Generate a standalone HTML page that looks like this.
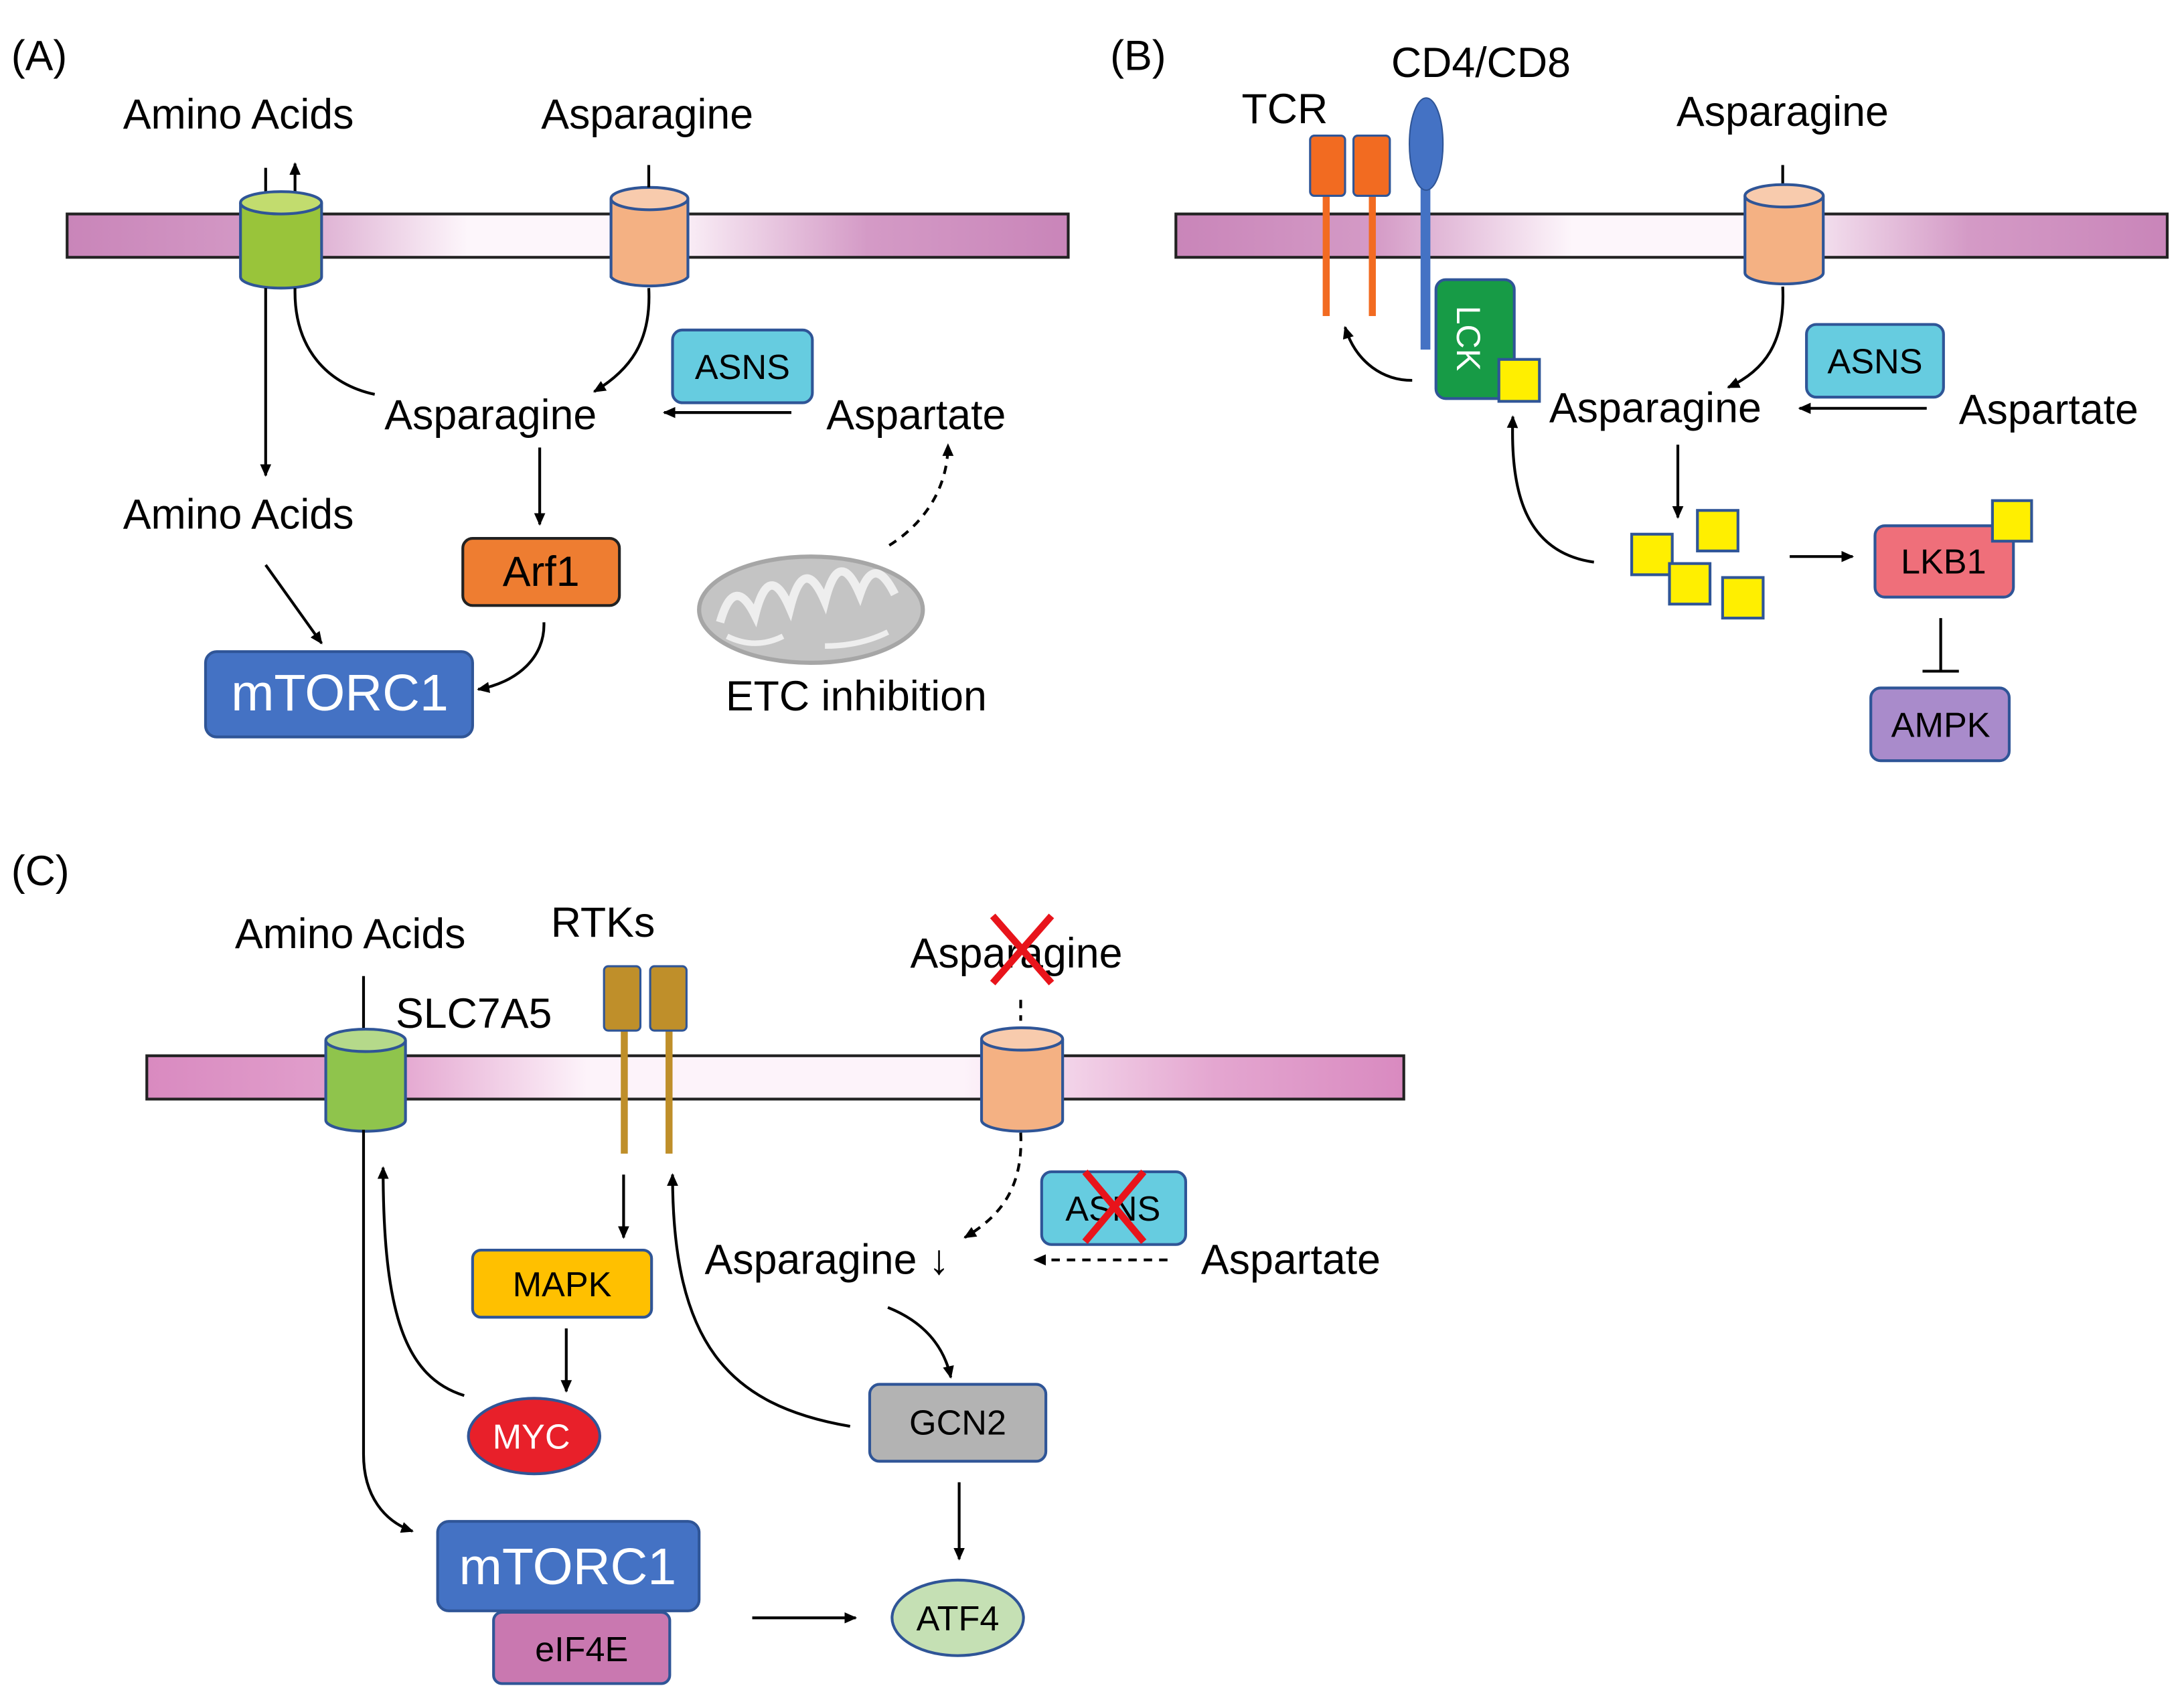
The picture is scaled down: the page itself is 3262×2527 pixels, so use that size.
<!DOCTYPE html>
<html><head><meta charset="utf-8"><style>html,body{margin:0;padding:0;background:#fff}svg{display:block}text{font-family:"Liberation Sans",Arial,sans-serif}</style></head>
<body>
<svg width="3262" height="2527" viewBox="0 0 1562 1210" xmlns="http://www.w3.org/2000/svg">
<defs>
<linearGradient id="mem" x1="0" x2="1" y1="0" y2="0">
<stop offset="0" stop-color="#c985b9"/><stop offset="0.2" stop-color="#d49ac6"/><stop offset="0.4" stop-color="#fdf6fb"/><stop offset="0.6" stop-color="#fdf6fb"/><stop offset="0.8" stop-color="#d49ac6"/><stop offset="1" stop-color="#c985b9"/>
</linearGradient>
<linearGradient id="memc" x1="0" x2="1" y1="0" y2="0">
<stop offset="0" stop-color="#d98ac0"/><stop offset="0.2" stop-color="#e4a6d0"/><stop offset="0.35" stop-color="#fdf3fa"/><stop offset="0.65" stop-color="#fdf3fa"/><stop offset="0.85" stop-color="#e4a6d0"/><stop offset="1" stop-color="#d98ac0"/>
</linearGradient>
<marker id="ar" markerWidth="10" markerHeight="10" refX="8" refY="5" orient="auto" markerUnits="userSpaceOnUse"><path d="M0,1 L9,5 L0,9 z" fill="#000"/></marker>
</defs>
<g font-size="30" fill="#000">
<!-- Panel A -->
<text x="8" y="50" font-size="30">(A)</text>
<rect x="48" y="153" width="716" height="31" fill="url(#mem)" stroke="#222" stroke-width="2"/>
<text x="88" y="92">Amino Acids</text>
<text x="387" y="92">Asparagine</text>
<line x1="190" y1="120" x2="190" y2="140" stroke="#000" stroke-width="2"/>
<line x1="211" y1="140" x2="211" y2="117" stroke="#000" stroke-width="2" marker-end="url(#ar)"/>
<g stroke="#2f5597" stroke-width="2">
<path d="M172,145 V198 A29,8 0 0 0 230,198 V145" fill="#99c43a"/>
<ellipse cx="201" cy="145" rx="29" ry="8" fill="#c2dc6e"/>
<path d="M437,142 V198 A28,8 0 0 0 492,198 V142" fill="#f4b183"/>
<ellipse cx="464.5" cy="142" rx="27.5" ry="8" fill="#f8cbad"/>
</g>
<line x1="464" y1="118" x2="464" y2="134" stroke="#000" stroke-width="2"/>
<g fill="none" stroke="#000" stroke-width="2">
<path d="M464,206 C466,245 450,265 425,280" marker-end="url(#ar)"/>
<path d="M211,206 C210,250 235,275 268,282"/>
<line x1="190" y1="206" x2="190" y2="340" marker-end="url(#ar)"/>
<line x1="566" y1="295" x2="475" y2="295" marker-end="url(#ar)"/>
<line x1="386" y1="320" x2="386" y2="375" marker-end="url(#ar)"/>
<line x1="190" y1="404" x2="230" y2="460" marker-end="url(#ar)"/>
<path d="M389,445 C390,470 370,488 342,493" marker-end="url(#ar)"/>
<path d="M636,390 C660,375 678,350 678,318" stroke-dasharray="6,5" marker-end="url(#ar)"/>
</g>
<text x="275" y="307">Asparagine</text>
<rect x="481" y="236" width="100" height="52" rx="7" fill="#66cce0" stroke="#2f5597" stroke-width="2"/>
<text x="531" y="271" font-size="25" text-anchor="middle">ASNS</text>
<text x="591" y="307">Aspartate</text>
<text x="88" y="378">Amino Acids</text>
<rect x="331" y="385" width="112" height="48" rx="7" fill="#ee7d31" stroke="#222" stroke-width="2"/>
<text x="387" y="419" text-anchor="middle">Arf1</text>
<rect x="147" y="466" width="191" height="61" rx="8" fill="#4472c4" stroke="#2f5597" stroke-width="2"/>
<text x="243" y="508" font-size="37" fill="#fff" text-anchor="middle">mTORC1</text>
<ellipse cx="580" cy="436" rx="80" ry="38" fill="#c4c4c4" stroke="#a6a6a6" stroke-width="3"/>
<path d="M515,445 q10,-35 25,-5 q10,-40 25,-5 q10,-40 25,-5 q10,-40 25,-5 q10,-30 25,0" fill="none" stroke="#eee" stroke-width="6"/>
<path d="M520,455 q20,10 40,0 M590,462 q25,0 45,-10" fill="none" stroke="#eee" stroke-width="4"/>
<text x="519" y="508">ETC inhibition</text>

<!-- Panel B -->
<text x="794" y="50" font-size="30">(B)</text>
<rect x="841" y="153" width="709" height="31" fill="url(#mem)" stroke="#222" stroke-width="2"/>
<text x="888" y="88">TCR</text>
<text x="995" y="55">CD4/CD8</text>
<rect x="946" y="140" width="5" height="86" fill="#f26b21"/>
<rect x="979" y="140" width="5" height="86" fill="#f26b21"/>
<rect x="937" y="97" width="25" height="43" rx="3" fill="#f26b21" stroke="#2f5597" stroke-width="1.5"/>
<rect x="968" y="97" width="26" height="43" rx="3" fill="#f26b21" stroke="#2f5597" stroke-width="1.5"/>
<rect x="1016" y="130" width="7" height="120" fill="#4472c4"/>
<ellipse cx="1020" cy="103" rx="12" ry="33" fill="#4472c4" stroke="#2f5597"/>
<rect x="1027" y="200" width="56" height="85" rx="7" fill="#179b46" stroke="#2f5597" stroke-width="2"/>
<text x="1042" y="242" font-size="24" fill="#fff" text-anchor="middle" transform="rotate(90 1042 242)">LCK</text>
<rect x="1072" y="257" width="29" height="30" fill="#ffef00" stroke="#2f5597" stroke-width="2"/>
<text x="1199" y="90">Asparagine</text>
<line x1="1275" y1="118" x2="1275" y2="134" stroke="#000" stroke-width="2"/>
<g stroke="#2f5597" stroke-width="2">
<path d="M1248,140 V195 A28,8 0 0 0 1304,195 V140" fill="#f4b183"/>
<ellipse cx="1276" cy="140" rx="28" ry="8" fill="#f8cbad"/>
</g>
<g fill="none" stroke="#000" stroke-width="2">
<path d="M1010,272 C990,272 970,260 962,234" marker-end="url(#ar)"/>
<path d="M1275,205 C1277,245 1262,265 1236,277" marker-end="url(#ar)"/>
<line x1="1378" y1="292" x2="1287" y2="292" marker-end="url(#ar)"/>
<line x1="1200" y1="318" x2="1200" y2="370" marker-end="url(#ar)"/>
<path d="M1140,402 C1090,395 1080,350 1082,298" marker-end="url(#ar)"/>
<line x1="1280" y1="398" x2="1325" y2="398" marker-end="url(#ar)"/>
<line x1="1388" y1="442" x2="1388" y2="480"/>
<line x1="1375" y1="480" x2="1401" y2="480"/>
</g>
<rect x="1292" y="232" width="98" height="52" rx="7" fill="#66cce0" stroke="#2f5597" stroke-width="2"/>
<text x="1341" y="267" font-size="25" text-anchor="middle">ASNS</text>
<text x="1108" y="302">Asparagine</text>
<text x="1401" y="303">Aspartate</text>
<g fill="#ffef00" stroke="#2f5597" stroke-width="2">
<rect x="1167" y="382" width="29" height="29"/>
<rect x="1214" y="365" width="29" height="29"/>
<rect x="1194" y="403" width="29" height="29"/>
<rect x="1232" y="413" width="29" height="29"/>
</g>
<rect x="1341" y="376" width="99" height="51" rx="7" fill="#ef6f7a" stroke="#2f5597" stroke-width="2"/>
<text x="1390" y="410" font-size="25" text-anchor="middle">LKB1</text>
<rect x="1425" y="358" width="28" height="29" fill="#ffef00" stroke="#2f5597" stroke-width="2"/>
<rect x="1338" y="492" width="99" height="52" rx="7" fill="#a98bcb" stroke="#2f5597" stroke-width="2"/>
<text x="1388" y="527" font-size="25" text-anchor="middle">AMPK</text>

<!-- Panel C -->
<text x="8" y="633" font-size="30">(C)</text>
<rect x="105" y="755" width="899" height="31" fill="url(#memc)" stroke="#222" stroke-width="2"/>
<text x="168" y="678">Amino Acids</text>
<text x="283" y="735">SLC7A5</text>
<text x="394" y="670">RTKs</text>
<line x1="260" y1="698" x2="260" y2="738" stroke="#000" stroke-width="2"/>
<g stroke="#2f5597" stroke-width="2">
<path d="M233,744 V801 A28.5,8 0 0 0 290,801 V744" fill="#8fc44c"/>
<ellipse cx="261.5" cy="744" rx="28.5" ry="8" fill="#b5d98a"/>
<path d="M702,743 V801 A29,8 0 0 0 760,801 V743" fill="#f4b183"/>
<ellipse cx="731" cy="743" rx="29" ry="8" fill="#f8cbad"/>
</g>
<rect x="444" y="737" width="5" height="88" fill="#bf8f2a"/>
<rect x="476" y="737" width="5" height="88" fill="#bf8f2a"/>
<rect x="432" y="691" width="26" height="46" rx="3" fill="#bf8f2a" stroke="#2f5597" stroke-width="1.5"/>
<rect x="465" y="691" width="26" height="46" rx="3" fill="#bf8f2a" stroke="#2f5597" stroke-width="1.5"/>
<text x="651" y="692">Asparagine</text>
<g stroke="#e8141b" stroke-width="5"><line x1="710" y1="655" x2="752" y2="703"/><line x1="752" y1="655" x2="710" y2="703"/></g>
<g fill="none" stroke="#000" stroke-width="2">
<line x1="730" y1="715" x2="730" y2="730" stroke-dasharray="6,5"/>
<path d="M730,810 C732,850 715,870 690,885" stroke-dasharray="6,5" marker-end="url(#ar)"/>
<line x1="835" y1="901" x2="740" y2="901" stroke-dasharray="6,5" marker-end="url(#ar)"/>
<line x1="446" y1="840" x2="446" y2="885" marker-end="url(#ar)"/>
<line x1="405" y1="950" x2="405" y2="995" marker-end="url(#ar)"/>
<path d="M332,998 C290,985 274,940 274,835" marker-end="url(#ar)"/>
<path d="M608,1020 C520,1005 481,960 481,840" marker-end="url(#ar)"/>
<path d="M635,935 C660,945 675,962 680,985" marker-end="url(#ar)"/>
<line x1="686" y1="1060" x2="686" y2="1115" marker-end="url(#ar)"/>
<path d="M260,808 V1040 C260,1070 275,1088 295,1095" marker-end="url(#ar)"/>
<line x1="538" y1="1157" x2="612" y2="1157" marker-end="url(#ar)"/>
</g>
<text x="504" y="911">Asparagine ↓</text>
<rect x="745" y="838" width="103" height="52" rx="7" fill="#66cce0" stroke="#2f5597" stroke-width="2"/>
<text x="796" y="873" font-size="25" text-anchor="middle">ASNS</text>
<g stroke="#e8141b" stroke-width="5"><line x1="776" y1="838" x2="818" y2="888"/><line x1="818" y1="838" x2="776" y2="888"/></g>
<text x="859" y="911">Aspartate</text>
<rect x="338" y="894" width="128" height="48" rx="6" fill="#ffc000" stroke="#2f5597" stroke-width="2"/>
<text x="402" y="927" font-size="25" text-anchor="middle">MAPK</text>
<ellipse cx="382" cy="1027" rx="47" ry="27" fill="#e8202a" stroke="#2f5597" stroke-width="2"/>
<text x="380" y="1036" font-size="25" fill="#fff" text-anchor="middle">MYC</text>
<rect x="622" y="990" width="126" height="55" rx="7" fill="#b3b3b3" stroke="#2f5597" stroke-width="2"/>
<text x="685" y="1026" font-size="25" text-anchor="middle">GCN2</text>
<ellipse cx="685" cy="1157" rx="47" ry="27" fill="#c5e0b4" stroke="#2f5597" stroke-width="2"/>
<text x="685" y="1166" font-size="25" text-anchor="middle">ATF4</text>
<rect x="353" y="1153" width="126" height="51" rx="6" fill="#c978b0" stroke="#2f5597" stroke-width="2"/>
<text x="416" y="1188" font-size="25" text-anchor="middle">eIF4E</text>
<rect x="313" y="1088" width="187" height="64" rx="8" fill="#4472c4" stroke="#2f5597" stroke-width="2"/>
<text x="406" y="1133" font-size="37" fill="#fff" text-anchor="middle">mTORC1</text>
</g>
</svg>
</body></html>
